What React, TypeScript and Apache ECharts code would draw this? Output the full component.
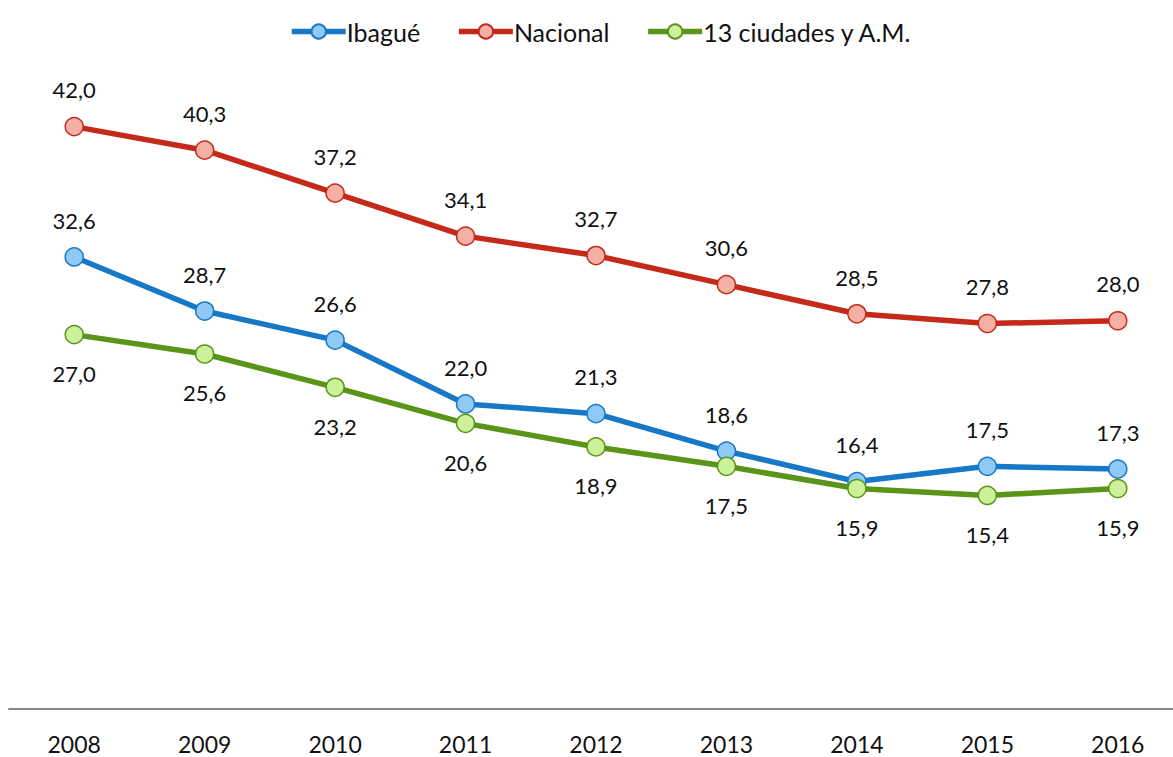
import React, { useEffect, useRef } from "react";
import * as echarts from "echarts";

const years = ["2008", "2009", "2010", "2011", "2012", "2013", "2014", "2015", "2016"];
const ibague = [32.6, 28.7, 26.6, 22.0, 21.3, 18.6, 16.4, 17.5, 17.3];
const nacional = [42.0, 40.3, 37.2, 34.1, 32.7, 30.6, 28.5, 27.8, 28.0];
const ciudades = [27.0, 25.6, 23.2, 20.6, 18.9, 17.5, 15.9, 15.4, 15.9];

const FONT = "Lato, 'Open Sans', sans-serif";

function mk(name: string, data: number[], line: string, fill: string, pos: "top" | "bottom") {
  return {
    name,
    type: "line",
    data,
    symbol: "circle",
    symbolSize: 18,
    lineStyle: { color: line, width: 5.5 },
    itemStyle: { color: fill, borderColor: line, borderWidth: 1.5 },
    label: {
      show: true,
      position: pos,
      distance: pos === "top" ? 16 : 18,
      fontSize: 22,
      fontFamily: FONT,
      color: "#111",
      formatter: (p: any) => Number(p.value).toFixed(1).replace(".", ","),
    },
  };
}

export default function App() {
  const ref = useRef<HTMLDivElement>(null);
  useEffect(() => {
    const chart = echarts.init(ref.current!, undefined, { renderer: "svg" });
    chart.setOption({
      animation: false,
      backgroundColor: "#fff",
      legend: {
        top: 14,
        left: 284,
        itemWidth: 54,
        itemHeight: 18,
        itemGap: 36,
        lineStyle: { width: 5.5 },
        textStyle: { fontSize: 25, fontFamily: FONT, color: "#111", padding: [0, 0, 0, -4] },
        data: ["Ibagué", "Nacional", "13 ciudades y A.M."],
      },
      grid: { left: 9, right: -10, top: 85, bottom: 48, outerBoundsMode: "none" },
      xAxis: {
        type: "category",
        data: years,
        boundaryGap: true,
        axisLine: { lineStyle: { color: "#888", width: 2 } },
        axisTick: { show: false },
        axisLabel: { fontSize: 23, fontFamily: FONT, color: "#111", margin: 23 },
      },
      yAxis: { type: "value", min: 0, max: 45, show: false, splitLine: { show: false } },
      series: [
        mk("Ibagué", ibague, "#1878c8", "#8fc9f5", "top"),
        mk("Nacional", nacional, "#c4291a", "#f5b0a6", "top"),
        mk("13 ciudades y A.M.", ciudades, "#5a9418", "#cdf09b", "bottom"),
      ],
    });
    return () => chart.dispose();
  }, []);
  return (
    <div
      ref={ref}
      style={{ position: "fixed", left: 0, top: 0, width: 1173, height: 757 }}
    />
  );
}
